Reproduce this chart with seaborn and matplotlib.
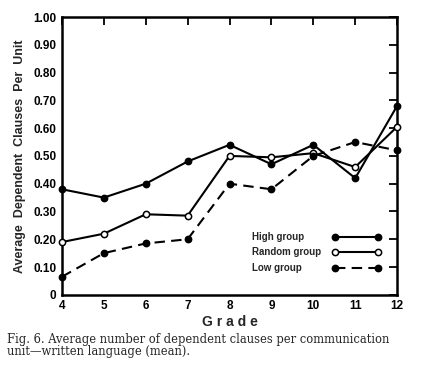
import numpy as np
import pandas as pd
import matplotlib
matplotlib.use("Agg")
import matplotlib.pyplot as plt
import seaborn as sns

# ---- data ----
grades = [4, 5, 6, 7, 8, 9, 10, 11, 12]
high_group = [0.38, 0.35, 0.40, 0.48, 0.54, 0.47, 0.54, 0.42, 0.68]
random_group = [0.19, 0.22, 0.29, 0.285, 0.50, 0.495, 0.51, 0.46, 0.605]
low_group = [0.065, 0.15, 0.185, 0.20, 0.40, 0.38, 0.50, 0.55, 0.52]
group_names = ["High group", "Random group", "Low group"]
y_ticks = [0, 0.1, 0.2, 0.3, 0.4, 0.5, 0.6, 0.7, 0.8, 0.9, 1.0]
y_labels = ["0", "0.10", "0.20", "0.30", "0.40", "0.50", "0.60", "0.70", "0.80", "0.90", "1.00"]

df = pd.DataFrame({
    "Grade": grades * 3,
    "value": high_group + random_group + low_group,
    "group": [g for g in group_names for _ in grades],
})

sns.set_style("white")
plt.rcParams["font.family"] = ["Liberation Sans", "DejaVu Sans"]

fig = plt.figure(figsize=(4.27, 3.78), dpi=100)
ax = fig.add_axes([0.145, 0.22, 0.785, 0.735])

styles = {
    "High group": dict(mfc="black", ls="-"),
    "Random group": dict(mfc="white", ls="-"),
    "Low group": dict(mfc="black", ls=(0, (5, 3))),
}
for g in group_names:
    sub = df[df["group"] == g]
    st = styles[g]
    sns.lineplot(data=sub, x="Grade", y="value", ax=ax, color="black",
                 lw=1.5, marker="o", markersize=4.5,
                 markerfacecolor=st["mfc"], markeredgecolor="black",
                 markeredgewidth=1.1, linestyle=st["ls"], legend=False,
                 clip_on=False, zorder=3)

ax.set_xlim(4, 12)
ax.set_ylim(0, 1.0)
ax.set_xticks(grades)
ax.set_xticklabels([str(g) for g in grades], fontsize=8.5, fontweight="bold")
ax.set_yticks(y_ticks)
ax.set_yticklabels(y_labels, fontsize=8.5, fontweight="bold")
ax.tick_params(direction="in", length=6, width=1.3, top=True, right=True,
               pad=4, colors="black")
for s in ax.spines.values():
    s.set_color("black")
    s.set_linewidth(1.8)

ax.set_xlabel("G r a d e", fontsize=10, fontweight="bold", labelpad=2)
ax.set_ylabel("Average  Dependent  Clauses  Per  Unit", fontsize=9,
              fontweight="bold", labelpad=5)

# key: label on the left, sample line with end markers on the right
key_y = [0.209, 0.155, 0.097]
for g, yk in zip(group_names, key_y):
    st = styles[g]
    ax.text(0.567, yk, g, transform=ax.transAxes, fontsize=7,
            fontweight="bold", va="center", ha="left")
    ax.plot([0.815, 0.943], [yk, yk], transform=ax.transAxes, color="black",
            lw=1.5, ls=st["ls"], marker="o", markersize=4.5,
            markerfacecolor=st["mfc"], markeredgecolor="black",
            markeredgewidth=1.1)

fig.text(0.016, 0.103, "Fig. 6. Average number of dependent clauses per communication",
         fontsize=8.3, family="DejaVu Serif", va="center")
fig.text(0.016, 0.071, "unit\u2014written language (mean).",
         fontsize=8.3, family="DejaVu Serif", va="center")

fig.savefig("out.png", dpi=100)
